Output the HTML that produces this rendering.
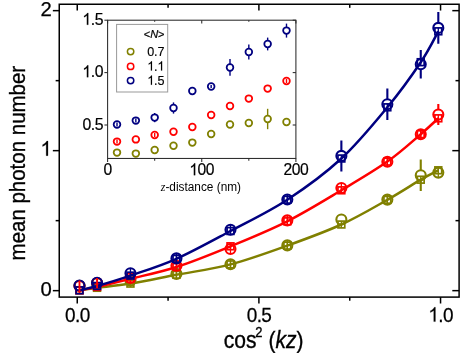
<!DOCTYPE html>
<html><head><meta charset="utf-8"><title>chart</title>
<style>html,body{margin:0;padding:0;background:#fff;font-family:"Liberation Sans",sans-serif;}svg{display:block;}</style>
</head><body>
<svg style="will-change:transform" width="471" height="353" viewBox="0 0 471 353">
<rect width="471" height="353" fill="#fff"/>
<path d="M130.45 275.50V285.50" stroke="#808000" stroke-width="1.3" fill="none"/>
<path d="M176.43 268.90V278.90" stroke="#808000" stroke-width="1.3" fill="none"/>
<path d="M230.48 259.20V269.20" stroke="#808000" stroke-width="1.3" fill="none"/>
<path d="M287.32 240.40V250.40" stroke="#808000" stroke-width="1.3" fill="none"/>
<path d="M387.35 194.60V204.60" stroke="#808000" stroke-width="1.3" fill="none"/>
<path d="M420.75 159.50V170.30M420.75 180.30V191.10" stroke="#808000" stroke-width="2.10" fill="none"/>
<path d="M438.31 167.60V177.60" stroke="#808000" stroke-width="1.3" fill="none"/>

<circle cx="79.49" cy="285.80" r="5.00" fill="none" stroke="#808000" stroke-width="2.10"/>
<circle cx="97.05" cy="283.30" r="5.00" fill="none" stroke="#808000" stroke-width="2.10"/>
<circle cx="130.45" cy="280.50" r="5.00" fill="none" stroke="#808000" stroke-width="2.10"/>
<circle cx="176.43" cy="273.90" r="5.00" fill="none" stroke="#808000" stroke-width="2.10"/>
<circle cx="230.48" cy="264.20" r="5.00" fill="none" stroke="#808000" stroke-width="2.10"/>
<circle cx="287.32" cy="245.40" r="5.00" fill="none" stroke="#808000" stroke-width="2.10"/>
<circle cx="341.37" cy="219.50" r="5.00" fill="none" stroke="#808000" stroke-width="2.10"/>
<circle cx="387.35" cy="199.60" r="5.00" fill="none" stroke="#808000" stroke-width="2.10"/>
<circle cx="420.75" cy="175.30" r="5.00" fill="none" stroke="#808000" stroke-width="2.10"/>
<circle cx="438.31" cy="172.60" r="5.00" fill="none" stroke="#808000" stroke-width="2.10"/>
<path d="M79.49 290.20 C82.41 289.80 88.55 288.90 97.05 287.80 C105.54 286.70 117.22 285.77 130.45 283.60 C143.68 281.43 159.76 278.00 176.43 274.80 C193.10 271.60 212.00 269.27 230.48 264.40 C248.96 259.53 268.84 252.25 287.32 245.60 C305.80 238.95 324.70 232.13 341.37 224.50 C358.04 216.87 374.12 207.27 387.35 199.80 C400.58 192.33 412.26 184.62 420.75 179.70 C429.25 174.78 435.39 171.87 438.31 170.30" fill="none" stroke="#808000" stroke-width="2.50" stroke-linejoin="round"/>
<rect x="76.09" y="286.80" width="6.80" height="6.80" fill="none" stroke="#808000" stroke-width="1.70"/>
<rect x="93.65" y="284.40" width="6.80" height="6.80" fill="none" stroke="#808000" stroke-width="1.70"/>
<rect x="127.05" y="280.20" width="6.80" height="6.80" fill="none" stroke="#808000" stroke-width="1.70"/>
<path d="M130.45 280.20V287.00" stroke="#808000" stroke-width="1.3" fill="none"/>
<rect x="173.03" y="271.40" width="6.80" height="6.80" fill="none" stroke="#808000" stroke-width="1.70"/>
<path d="M176.43 271.40V278.20" stroke="#808000" stroke-width="1.3" fill="none"/>
<rect x="227.08" y="261.00" width="6.80" height="6.80" fill="none" stroke="#808000" stroke-width="1.70"/>
<path d="M230.48 261.00V267.80" stroke="#808000" stroke-width="1.3" fill="none"/>
<rect x="283.92" y="242.20" width="6.80" height="6.80" fill="none" stroke="#808000" stroke-width="1.70"/>
<path d="M287.32 242.20V249.00" stroke="#808000" stroke-width="1.3" fill="none"/>
<rect x="337.97" y="221.10" width="6.80" height="6.80" fill="none" stroke="#808000" stroke-width="1.70"/>
<path d="M341.37 221.10V227.90" stroke="#808000" stroke-width="1.3" fill="none"/>
<rect x="383.95" y="196.40" width="6.80" height="6.80" fill="none" stroke="#808000" stroke-width="1.70"/>
<path d="M387.35 196.40V203.20" stroke="#808000" stroke-width="1.3" fill="none"/>
<rect x="417.35" y="176.30" width="6.80" height="6.80" fill="none" stroke="#808000" stroke-width="1.70"/>
<path d="M420.75 176.30V183.10" stroke="#808000" stroke-width="1.3" fill="none"/>
<rect x="434.91" y="166.90" width="6.80" height="6.80" fill="none" stroke="#808000" stroke-width="1.70"/>
<path d="M438.31 166.90V173.70" stroke="#808000" stroke-width="1.3" fill="none"/>
<path d="M130.45 273.00V283.00" stroke="#ff0000" stroke-width="1.3" fill="none"/>
<path d="M176.43 260.80V270.80" stroke="#ff0000" stroke-width="1.3" fill="none"/>
<path d="M230.48 244.00V254.00" stroke="#ff0000" stroke-width="1.3" fill="none"/>
<path d="M287.32 215.40V225.40" stroke="#ff0000" stroke-width="1.3" fill="none"/>
<path d="M341.37 183.00V193.00" stroke="#ff0000" stroke-width="1.3" fill="none"/>
<path d="M387.35 156.80V166.80" stroke="#ff0000" stroke-width="1.3" fill="none"/>
<path d="M420.75 129.20V139.20" stroke="#ff0000" stroke-width="1.3" fill="none"/>
<path d="M438.31 103.90V109.50M438.31 119.50V125.10" stroke="#ff0000" stroke-width="2.10" fill="none"/>

<circle cx="79.49" cy="286.00" r="5.00" fill="none" stroke="#ff0000" stroke-width="2.10"/>
<circle cx="97.05" cy="283.00" r="5.00" fill="none" stroke="#ff0000" stroke-width="2.10"/>
<circle cx="130.45" cy="278.00" r="5.00" fill="none" stroke="#ff0000" stroke-width="2.10"/>
<circle cx="176.43" cy="265.80" r="5.00" fill="none" stroke="#ff0000" stroke-width="2.10"/>
<circle cx="230.48" cy="249.00" r="5.00" fill="none" stroke="#ff0000" stroke-width="2.10"/>
<circle cx="287.32" cy="220.40" r="5.00" fill="none" stroke="#ff0000" stroke-width="2.10"/>
<circle cx="341.37" cy="188.00" r="5.00" fill="none" stroke="#ff0000" stroke-width="2.10"/>
<circle cx="387.35" cy="161.80" r="5.00" fill="none" stroke="#ff0000" stroke-width="2.10"/>
<circle cx="420.75" cy="134.20" r="5.00" fill="none" stroke="#ff0000" stroke-width="2.10"/>
<circle cx="438.31" cy="114.50" r="5.00" fill="none" stroke="#ff0000" stroke-width="2.10"/>
<path d="M79.49 290.30 C82.41 289.73 88.55 288.82 97.05 286.90 C105.54 284.98 117.22 282.12 130.45 278.80 C143.68 275.48 159.76 272.42 176.43 267.00 C193.10 261.58 212.00 253.92 230.48 246.30 C248.96 238.68 268.84 230.63 287.32 221.30 C305.80 211.97 324.70 200.25 341.37 190.30 C358.04 180.35 374.12 170.95 387.35 161.60 C400.58 152.25 412.26 141.42 420.75 134.20 C429.25 126.98 435.39 120.95 438.31 118.30" fill="none" stroke="#ff0000" stroke-width="2.50" stroke-linejoin="round"/>
<rect x="76.09" y="286.90" width="6.80" height="6.80" fill="none" stroke="#ff0000" stroke-width="1.70"/>
<rect x="93.65" y="283.50" width="6.80" height="6.80" fill="none" stroke="#ff0000" stroke-width="1.70"/>
<rect x="127.05" y="275.40" width="6.80" height="6.80" fill="none" stroke="#ff0000" stroke-width="1.70"/>
<path d="M130.45 275.40V282.20" stroke="#ff0000" stroke-width="1.3" fill="none"/>
<rect x="173.03" y="263.60" width="6.80" height="6.80" fill="none" stroke="#ff0000" stroke-width="1.70"/>
<path d="M176.43 263.60V270.40" stroke="#ff0000" stroke-width="1.3" fill="none"/>
<rect x="227.08" y="242.90" width="6.80" height="6.80" fill="none" stroke="#ff0000" stroke-width="1.70"/>
<path d="M230.48 242.90V249.70" stroke="#ff0000" stroke-width="1.3" fill="none"/>
<rect x="283.92" y="217.90" width="6.80" height="6.80" fill="none" stroke="#ff0000" stroke-width="1.70"/>
<path d="M287.32 217.90V224.70" stroke="#ff0000" stroke-width="1.3" fill="none"/>
<rect x="337.97" y="186.90" width="6.80" height="6.80" fill="none" stroke="#ff0000" stroke-width="1.70"/>
<path d="M341.37 186.90V193.70" stroke="#ff0000" stroke-width="1.3" fill="none"/>
<rect x="383.95" y="158.20" width="6.80" height="6.80" fill="none" stroke="#ff0000" stroke-width="1.70"/>
<path d="M387.35 158.20V165.00" stroke="#ff0000" stroke-width="1.3" fill="none"/>
<rect x="417.35" y="130.80" width="6.80" height="6.80" fill="none" stroke="#ff0000" stroke-width="1.70"/>
<path d="M420.75 130.80V137.60" stroke="#ff0000" stroke-width="1.3" fill="none"/>
<rect x="434.91" y="114.90" width="6.80" height="6.80" fill="none" stroke="#ff0000" stroke-width="1.70"/>
<path d="M438.31 114.90V121.70" stroke="#ff0000" stroke-width="1.3" fill="none"/>
<path d="M130.45 268.30V278.30" stroke="#000080" stroke-width="1.3" fill="none"/>
<path d="M176.43 253.40V263.40" stroke="#000080" stroke-width="1.3" fill="none"/>
<path d="M230.48 224.70V234.70" stroke="#000080" stroke-width="1.3" fill="none"/>
<path d="M287.32 194.50V204.50" stroke="#000080" stroke-width="1.3" fill="none"/>
<path d="M341.37 140.40V150.90M341.37 160.90V171.40" stroke="#000080" stroke-width="2.10" fill="none"/>
<path d="M387.35 88.50V99.20M387.35 109.20V119.90" stroke="#000080" stroke-width="2.10" fill="none"/>
<path d="M420.75 50.00V59.20M420.75 69.20V78.40" stroke="#000080" stroke-width="2.10" fill="none"/>
<path d="M438.31 12.00V22.90M438.31 32.90V43.80" stroke="#000080" stroke-width="2.10" fill="none"/>

<circle cx="79.49" cy="285.50" r="5.00" fill="none" stroke="#000080" stroke-width="2.10"/>
<circle cx="97.05" cy="282.70" r="5.00" fill="none" stroke="#000080" stroke-width="2.10"/>
<circle cx="130.45" cy="273.30" r="5.00" fill="none" stroke="#000080" stroke-width="2.10"/>
<circle cx="176.43" cy="258.40" r="5.00" fill="none" stroke="#000080" stroke-width="2.10"/>
<circle cx="230.48" cy="229.70" r="5.00" fill="none" stroke="#000080" stroke-width="2.10"/>
<circle cx="287.32" cy="199.50" r="5.00" fill="none" stroke="#000080" stroke-width="2.10"/>
<circle cx="341.37" cy="155.90" r="5.00" fill="none" stroke="#000080" stroke-width="2.10"/>
<circle cx="387.35" cy="104.20" r="5.00" fill="none" stroke="#000080" stroke-width="2.10"/>
<circle cx="420.75" cy="64.20" r="5.00" fill="none" stroke="#000080" stroke-width="2.10"/>
<circle cx="438.31" cy="27.90" r="5.00" fill="none" stroke="#000080" stroke-width="2.10"/>
<path d="M79.49 290.30 C82.41 289.58 88.55 288.45 97.05 286.00 C105.54 283.55 117.22 280.13 130.45 275.60 C143.68 271.07 159.76 266.23 176.43 258.80 C193.10 251.37 212.00 240.85 230.48 231.00 C248.96 221.15 268.84 211.78 287.32 199.70 C305.80 187.62 324.70 173.90 341.37 158.50 C358.04 143.10 374.12 123.35 387.35 107.30 C400.58 91.25 412.26 74.87 420.75 62.20 C429.25 49.53 435.39 36.45 438.31 31.30" fill="none" stroke="#000080" stroke-width="2.50" stroke-linejoin="round"/>
<rect x="76.09" y="286.90" width="6.80" height="6.80" fill="none" stroke="#000080" stroke-width="1.70"/>
<rect x="93.65" y="282.60" width="6.80" height="6.80" fill="none" stroke="#000080" stroke-width="1.70"/>
<rect x="127.05" y="272.20" width="6.80" height="6.80" fill="none" stroke="#000080" stroke-width="1.70"/>
<path d="M130.45 272.20V279.00" stroke="#000080" stroke-width="1.3" fill="none"/>
<rect x="173.03" y="255.40" width="6.80" height="6.80" fill="none" stroke="#000080" stroke-width="1.70"/>
<path d="M176.43 255.40V262.20" stroke="#000080" stroke-width="1.3" fill="none"/>
<rect x="227.08" y="227.60" width="6.80" height="6.80" fill="none" stroke="#000080" stroke-width="1.70"/>
<path d="M230.48 227.60V234.40" stroke="#000080" stroke-width="1.3" fill="none"/>
<rect x="283.92" y="196.30" width="6.80" height="6.80" fill="none" stroke="#000080" stroke-width="1.70"/>
<path d="M287.32 196.30V203.10" stroke="#000080" stroke-width="1.3" fill="none"/>
<rect x="337.97" y="155.10" width="6.80" height="6.80" fill="none" stroke="#000080" stroke-width="1.70"/>
<path d="M341.37 155.10V161.90" stroke="#000080" stroke-width="1.3" fill="none"/>
<rect x="383.95" y="103.90" width="6.80" height="6.80" fill="none" stroke="#000080" stroke-width="1.70"/>
<path d="M387.35 103.90V110.70" stroke="#000080" stroke-width="1.3" fill="none"/>
<rect x="417.35" y="58.80" width="6.80" height="6.80" fill="none" stroke="#000080" stroke-width="1.70"/>
<path d="M420.75 58.80V65.60" stroke="#000080" stroke-width="1.3" fill="none"/>
<rect x="434.91" y="27.90" width="6.80" height="6.80" fill="none" stroke="#000080" stroke-width="1.70"/>
<path d="M438.31 27.90V34.70" stroke="#000080" stroke-width="1.3" fill="none"/>
<path d="M79.49 280.5V293.1M97.05 277.9V288.2" stroke="#ff0000" stroke-width="1.9" fill="none"/>
<g stroke="#000" stroke-width="1.5" fill="none">
<rect x="59.25" y="4.25" width="399.85" height="292.85"/>
<line x1="52.85" y1="290.65" x2="59.25" y2="290.65"/>
<line x1="452.30" y1="290.65" x2="459.10" y2="290.65"/>
<line x1="52.85" y1="150.65" x2="59.25" y2="150.65"/>
<line x1="452.30" y1="150.65" x2="459.10" y2="150.65"/>
<line x1="52.85" y1="10.65" x2="59.25" y2="10.65"/>
<line x1="452.30" y1="10.65" x2="459.10" y2="10.65"/>
<line x1="55.65" y1="220.65" x2="59.25" y2="220.65"/>
<line x1="455.50" y1="220.65" x2="459.10" y2="220.65"/>
<line x1="55.65" y1="80.65" x2="59.25" y2="80.65"/>
<line x1="455.50" y1="80.65" x2="459.10" y2="80.65"/>
<line x1="77.25" y1="297.10" x2="77.25" y2="303.50"/>
<line x1="77.25" y1="4.25" x2="77.25" y2="10.55"/>
<line x1="258.90" y1="297.10" x2="258.90" y2="303.50"/>
<line x1="258.90" y1="4.25" x2="258.90" y2="10.55"/>
<line x1="440.55" y1="297.10" x2="440.55" y2="303.50"/>
<line x1="440.55" y1="4.25" x2="440.55" y2="10.55"/>
<line x1="168.07" y1="297.10" x2="168.07" y2="300.70"/>
<line x1="168.07" y1="4.25" x2="168.07" y2="7.85"/>
<line x1="349.73" y1="297.10" x2="349.73" y2="300.70"/>
<line x1="349.73" y1="4.25" x2="349.73" y2="7.85"/>
</g>
<text transform="translate(65.05 321.60) scale(0.950 1)" font-family="Liberation Sans, sans-serif" font-size="20.00" fill="#000" stroke="#000" stroke-width="0.25">0</text><text transform="translate(75.01 321.60) scale(0.950 1)" font-family="Liberation Sans, sans-serif" font-size="20.00" fill="#000" stroke="#000" stroke-width="0.25">.</text><text transform="translate(79.69 321.60) scale(0.950 1)" font-family="Liberation Sans, sans-serif" font-size="20.00" fill="#000" stroke="#000" stroke-width="0.25">0</text>
<text transform="translate(246.69 321.60) scale(0.950 1)" font-family="Liberation Sans, sans-serif" font-size="20.00" fill="#000" stroke="#000" stroke-width="0.25">0</text><text transform="translate(256.66 321.60) scale(0.950 1)" font-family="Liberation Sans, sans-serif" font-size="20.00" fill="#000" stroke="#000" stroke-width="0.25">.</text><text transform="translate(261.34 321.60) scale(0.950 1)" font-family="Liberation Sans, sans-serif" font-size="20.00" fill="#000" stroke="#000" stroke-width="0.25">5</text>
<path transform="translate(428.34 321.60) scale(0.00928 -0.00977)" d="M763 0H583V1147Q518 1085 412.5 1023T223 930V1104Q373 1174.5 485.5 1275T644 1470H763Z" fill="#000" stroke="#000" stroke-width="25.6"/><text transform="translate(438.31 321.60) scale(0.950 1)" font-family="Liberation Sans, sans-serif" font-size="20.00" fill="#000" stroke="#000" stroke-width="0.25">.</text><text transform="translate(442.99 321.60) scale(0.950 1)" font-family="Liberation Sans, sans-serif" font-size="20.00" fill="#000" stroke="#000" stroke-width="0.25">0</text>
<text transform="translate(40.41 295.65) scale(1.000 1)" font-family="Liberation Sans, sans-serif" font-size="20.30" fill="#000" stroke="#000" stroke-width="0.25">0</text>
<path transform="translate(40.41 155.65) scale(0.00991 -0.00991)" d="M763 0H583V1147Q518 1085 412.5 1023T223 930V1104Q373 1174.5 485.5 1275T644 1470H763Z" fill="#000" stroke="#000" stroke-width="25.2"/>
<text transform="translate(40.41 15.65) scale(1.000 1)" font-family="Liberation Sans, sans-serif" font-size="20.30" fill="#000" stroke="#000" stroke-width="0.25">2</text>
<text transform="translate(223.7 347.9) scale(0.895 1)" font-family="Liberation Sans, sans-serif" font-size="23.5" fill="#000" stroke="#000" stroke-width="0.35">cos<tspan font-size="14.5" dy="-11" dx="-1.2">2</tspan><tspan dy="11"> (</tspan><tspan font-style="italic">kz</tspan>)</text>
<text transform="translate(24.6 260.4) rotate(-90) scale(0.91 1)" font-family="Liberation Sans, sans-serif" font-size="22.5" fill="#000" stroke="#000" stroke-width="0.35">mean photon number</text>
<rect x="107.60" y="20.20" width="188.30" height="138.25" fill="#fff" stroke="none"/>
<circle cx="117.01" cy="152.60" r="3.35" fill="#fff" stroke="#808000" stroke-width="1.75"/>
<circle cx="135.84" cy="153.60" r="3.35" fill="#fff" stroke="#808000" stroke-width="1.75"/>
<circle cx="154.68" cy="150.00" r="3.35" fill="#fff" stroke="#808000" stroke-width="1.75"/>
<circle cx="173.50" cy="145.80" r="3.35" fill="#fff" stroke="#808000" stroke-width="1.75"/>
<circle cx="192.33" cy="142.60" r="3.35" fill="#fff" stroke="#808000" stroke-width="1.75"/>
<circle cx="211.16" cy="134.00" r="3.35" fill="#fff" stroke="#808000" stroke-width="1.75"/>
<circle cx="230.00" cy="124.40" r="3.35" fill="#fff" stroke="#808000" stroke-width="1.75"/>
<circle cx="248.82" cy="123.00" r="3.35" fill="#fff" stroke="#808000" stroke-width="1.75"/>
<line x1="267.65" y1="108.80" x2="267.65" y2="129.20" stroke="#808000" stroke-width="1.4"/>
<circle cx="267.65" cy="119.00" r="3.35" fill="#fff" stroke="#808000" stroke-width="1.75"/>
<circle cx="286.49" cy="122.00" r="3.35" fill="#fff" stroke="#808000" stroke-width="1.75"/>
<line x1="117.01" y1="139.60" x2="117.01" y2="143.60" stroke="#ff0000" stroke-width="1.4"/>
<circle cx="117.01" cy="141.60" r="3.35" fill="#fff" stroke="#ff0000" stroke-width="1.75"/>
<line x1="117.01" y1="139.60" x2="117.01" y2="143.60" stroke="#ff0000" stroke-width="1.4"/>
<circle cx="135.84" cy="139.40" r="3.35" fill="#fff" stroke="#ff0000" stroke-width="1.75"/>
<line x1="154.68" y1="133.00" x2="154.68" y2="137.00" stroke="#ff0000" stroke-width="1.4"/>
<circle cx="154.68" cy="135.00" r="3.35" fill="#fff" stroke="#ff0000" stroke-width="1.75"/>
<line x1="154.68" y1="133.00" x2="154.68" y2="137.00" stroke="#ff0000" stroke-width="1.4"/>
<circle cx="173.50" cy="131.80" r="3.35" fill="#fff" stroke="#ff0000" stroke-width="1.75"/>
<circle cx="192.33" cy="127.00" r="3.35" fill="#fff" stroke="#ff0000" stroke-width="1.75"/>
<circle cx="211.16" cy="115.00" r="3.35" fill="#fff" stroke="#ff0000" stroke-width="1.75"/>
<circle cx="230.00" cy="106.00" r="3.35" fill="#fff" stroke="#ff0000" stroke-width="1.75"/>
<circle cx="248.82" cy="98.60" r="3.35" fill="#fff" stroke="#ff0000" stroke-width="1.75"/>
<circle cx="267.65" cy="88.60" r="3.35" fill="#fff" stroke="#ff0000" stroke-width="1.75"/>
<line x1="286.49" y1="79.00" x2="286.49" y2="83.00" stroke="#ff0000" stroke-width="1.4"/>
<circle cx="286.49" cy="81.00" r="3.35" fill="#fff" stroke="#ff0000" stroke-width="1.75"/>
<line x1="286.49" y1="79.00" x2="286.49" y2="83.00" stroke="#ff0000" stroke-width="1.4"/>
<line x1="117.01" y1="122.40" x2="117.01" y2="126.40" stroke="#000080" stroke-width="1.4"/>
<circle cx="117.01" cy="124.40" r="3.35" fill="#fff" stroke="#000080" stroke-width="1.75"/>
<line x1="117.01" y1="122.40" x2="117.01" y2="126.40" stroke="#000080" stroke-width="1.4"/>
<line x1="135.84" y1="118.60" x2="135.84" y2="122.60" stroke="#000080" stroke-width="1.4"/>
<circle cx="135.84" cy="120.60" r="3.35" fill="#fff" stroke="#000080" stroke-width="1.75"/>
<line x1="135.84" y1="118.60" x2="135.84" y2="122.60" stroke="#000080" stroke-width="1.4"/>
<line x1="154.68" y1="113.00" x2="154.68" y2="122.20" stroke="#000080" stroke-width="1.4"/>
<circle cx="154.68" cy="117.60" r="3.35" fill="#fff" stroke="#000080" stroke-width="1.75"/>
<line x1="173.50" y1="102.40" x2="173.50" y2="113.60" stroke="#000080" stroke-width="1.4"/>
<circle cx="173.50" cy="108.00" r="3.35" fill="#fff" stroke="#000080" stroke-width="1.75"/>
<circle cx="192.33" cy="91.00" r="3.35" fill="#fff" stroke="#000080" stroke-width="1.75"/>
<line x1="211.16" y1="84.90" x2="211.16" y2="87.90" stroke="#000080" stroke-width="1.4"/>
<circle cx="211.16" cy="86.40" r="3.35" fill="#fff" stroke="#000080" stroke-width="1.75"/>
<line x1="211.16" y1="84.90" x2="211.16" y2="87.90" stroke="#000080" stroke-width="1.4"/>
<line x1="230.00" y1="59.00" x2="230.00" y2="75.80" stroke="#000080" stroke-width="1.4"/>
<circle cx="230.00" cy="67.40" r="3.35" fill="#fff" stroke="#000080" stroke-width="1.75"/>
<line x1="248.82" y1="44.40" x2="248.82" y2="59.60" stroke="#000080" stroke-width="1.4"/>
<circle cx="248.82" cy="52.00" r="3.35" fill="#fff" stroke="#000080" stroke-width="1.75"/>
<line x1="267.65" y1="37.60" x2="267.65" y2="50.40" stroke="#000080" stroke-width="1.4"/>
<circle cx="267.65" cy="44.00" r="3.35" fill="#fff" stroke="#000080" stroke-width="1.75"/>
<line x1="286.49" y1="23.60" x2="286.49" y2="37.60" stroke="#000080" stroke-width="1.4"/>
<circle cx="286.49" cy="30.60" r="3.35" fill="#fff" stroke="#000080" stroke-width="1.75"/>
<g stroke="#2a2a2a" stroke-width="1.05" fill="none">
<rect x="107.60" y="20.20" width="188.30" height="138.25"/>
<line x1="104.40" y1="125.00" x2="107.60" y2="125.00"/>
<line x1="292.70" y1="125.00" x2="295.90" y2="125.00"/>
<line x1="104.40" y1="72.60" x2="107.60" y2="72.60"/>
<line x1="292.70" y1="72.60" x2="295.90" y2="72.60"/>
<line x1="104.40" y1="20.20" x2="107.60" y2="20.20"/>
<line x1="292.70" y1="20.20" x2="295.90" y2="20.20"/>
<line x1="107.60" y1="158.45" x2="107.60" y2="162.05"/>
<line x1="107.60" y1="20.20" x2="107.60" y2="23.40"/>
<line x1="201.75" y1="158.45" x2="201.75" y2="162.05"/>
<line x1="201.75" y1="20.20" x2="201.75" y2="23.40"/>
<line x1="295.90" y1="158.45" x2="295.90" y2="162.05"/>
<line x1="295.90" y1="20.20" x2="295.90" y2="23.40"/>
<line x1="154.68" y1="158.45" x2="154.68" y2="160.65"/>
<line x1="154.68" y1="20.20" x2="154.68" y2="21.80"/>
<line x1="248.82" y1="158.45" x2="248.82" y2="160.65"/>
<line x1="248.82" y1="20.20" x2="248.82" y2="21.80"/>
</g>
<text transform="translate(103.44 175.20) scale(0.950 1)" font-family="Liberation Sans, sans-serif" font-size="16.50" fill="#000" stroke="#000" stroke-width="0.20">0</text>
<path transform="translate(189.38 175.20) scale(0.00765 -0.00806)" d="M763 0H583V1147Q518 1085 412.5 1023T223 930V1104Q373 1174.5 485.5 1275T644 1470H763Z" fill="#000" stroke="#000" stroke-width="24.8"/><text transform="translate(197.59 175.20) scale(0.950 1)" font-family="Liberation Sans, sans-serif" font-size="16.50" fill="#000" stroke="#000" stroke-width="0.20">0</text><text transform="translate(205.81 175.20) scale(0.950 1)" font-family="Liberation Sans, sans-serif" font-size="16.50" fill="#000" stroke="#000" stroke-width="0.20">0</text>
<text transform="translate(283.53 175.20) scale(0.950 1)" font-family="Liberation Sans, sans-serif" font-size="16.50" fill="#000" stroke="#000" stroke-width="0.20">2</text><text transform="translate(291.74 175.20) scale(0.950 1)" font-family="Liberation Sans, sans-serif" font-size="16.50" fill="#000" stroke="#000" stroke-width="0.20">0</text><text transform="translate(299.96 175.20) scale(0.950 1)" font-family="Liberation Sans, sans-serif" font-size="16.50" fill="#000" stroke="#000" stroke-width="0.20">0</text>
<text transform="translate(82.38 129.60) scale(0.960 1)" font-family="Liberation Sans, sans-serif" font-size="16.50" fill="#000" stroke="#000" stroke-width="0.20">0</text><text transform="translate(90.79 129.60) scale(0.960 1)" font-family="Liberation Sans, sans-serif" font-size="16.50" fill="#000" stroke="#000" stroke-width="0.20">.</text><text transform="translate(94.79 129.60) scale(0.960 1)" font-family="Liberation Sans, sans-serif" font-size="16.50" fill="#000" stroke="#000" stroke-width="0.20">5</text>
<path transform="translate(82.38 77.20) scale(0.00773 -0.00806)" d="M763 0H583V1147Q518 1085 412.5 1023T223 930V1104Q373 1174.5 485.5 1275T644 1470H763Z" fill="#000" stroke="#000" stroke-width="24.8"/><text transform="translate(90.79 77.20) scale(0.960 1)" font-family="Liberation Sans, sans-serif" font-size="16.50" fill="#000" stroke="#000" stroke-width="0.20">.</text><text transform="translate(94.79 77.20) scale(0.960 1)" font-family="Liberation Sans, sans-serif" font-size="16.50" fill="#000" stroke="#000" stroke-width="0.20">0</text>
<path transform="translate(82.38 24.80) scale(0.00773 -0.00806)" d="M763 0H583V1147Q518 1085 412.5 1023T223 930V1104Q373 1174.5 485.5 1275T644 1470H763Z" fill="#000" stroke="#000" stroke-width="24.8"/><text transform="translate(90.79 24.80) scale(0.960 1)" font-family="Liberation Sans, sans-serif" font-size="16.50" fill="#000" stroke="#000" stroke-width="0.20">.</text><text transform="translate(94.79 24.80) scale(0.960 1)" font-family="Liberation Sans, sans-serif" font-size="16.50" fill="#000" stroke="#000" stroke-width="0.20">5</text>
<text transform="translate(160.8 191.4) scale(0.987 1)" font-family="Liberation Sans, sans-serif" font-size="12" fill="#000"><tspan font-family="Liberation Serif, serif" font-style="italic">z</tspan>-distance (nm)</text>
<rect x="116.6" y="24.4" width="51.1" height="67.6" fill="#fff" stroke="#999" stroke-width="1"/>
<text transform="translate(143.7 38.2) scale(1.0 1)" font-family="Liberation Sans, sans-serif" font-size="11" fill="#000" stroke="#000" stroke-width="0.2">&lt;<tspan font-style="italic">N</tspan>&gt;</text>
<circle cx="130.6" cy="51.60" r="3.2" fill="#fff" stroke="#808000" stroke-width="1.5"/>
<text transform="translate(147.30 55.80) scale(0.970 1)" font-family="Liberation Sans, sans-serif" font-size="13.00" fill="#000" stroke="#000" stroke-width="0.15">0</text><text transform="translate(154.11 55.80) scale(0.970 1)" font-family="Liberation Sans, sans-serif" font-size="13.00" fill="#000" stroke="#000" stroke-width="0.15">.</text><text transform="translate(157.42 55.80) scale(0.970 1)" font-family="Liberation Sans, sans-serif" font-size="13.00" fill="#000" stroke="#000" stroke-width="0.15">7</text>
<circle cx="130.6" cy="66.40" r="3.2" fill="#fff" stroke="#ff0000" stroke-width="1.5"/>
<path transform="translate(147.30 70.60) scale(0.00616 -0.00635)" d="M763 0H583V1147Q518 1085 412.5 1023T223 930V1104Q373 1174.5 485.5 1275T644 1470H763Z" fill="#000" stroke="#000" stroke-width="23.6"/><text transform="translate(154.11 70.60) scale(0.970 1)" font-family="Liberation Sans, sans-serif" font-size="13.00" fill="#000" stroke="#000" stroke-width="0.15">.</text><path transform="translate(157.42 70.60) scale(0.00616 -0.00635)" d="M763 0H583V1147Q518 1085 412.5 1023T223 930V1104Q373 1174.5 485.5 1275T644 1470H763Z" fill="#000" stroke="#000" stroke-width="23.6"/>
<circle cx="130.6" cy="80.60" r="3.2" fill="#fff" stroke="#000080" stroke-width="1.5"/>
<path transform="translate(147.30 84.80) scale(0.00616 -0.00635)" d="M763 0H583V1147Q518 1085 412.5 1023T223 930V1104Q373 1174.5 485.5 1275T644 1470H763Z" fill="#000" stroke="#000" stroke-width="23.6"/><text transform="translate(154.11 84.80) scale(0.970 1)" font-family="Liberation Sans, sans-serif" font-size="13.00" fill="#000" stroke="#000" stroke-width="0.15">.</text><text transform="translate(157.42 84.80) scale(0.970 1)" font-family="Liberation Sans, sans-serif" font-size="13.00" fill="#000" stroke="#000" stroke-width="0.15">5</text>
</svg>
</body></html>
